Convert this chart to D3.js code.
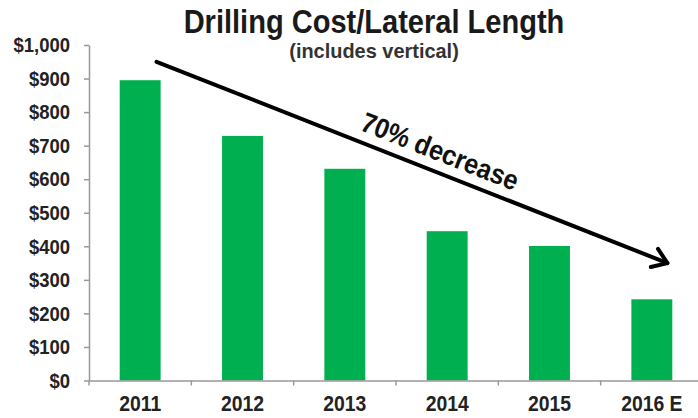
<!DOCTYPE html>
<html><head><meta charset="utf-8">
<script src="https://cdn.jsdelivr.net/npm/d3@7"></script>
<style>body{margin:0;background:#fff}svg{display:block}</style>
</head><body><svg id="c" width="698" height="418"></svg>
<script>
const categories = ["2011", "2012", "2013", "2014", "2015", "2016 E"];
const costValues = [895, 729, 631, 445, 401, 242];
const yTickValues = [0, 100, 200, 300, 400, 500, 600, 700, 800, 900, 1000];
const titleText = "Drilling Cost/Lateral Length";
const subtitleText = "(includes vertical)";
const annotationText = "70% decrease";
const arrowFrom = {cat: "2011", value: 950};
const arrowTo = {cat: "2016 E", value: 350};

const svg = d3.select("#c");
const font = "'Liberation Sans', Arial, sans-serif";
const textColor = "#222";
const axisColor = "#999";
const squeeze = 0.88;

const x = d3.scaleBand().domain(categories).range([89, 703]).paddingInner(0.6).paddingOuter(0.3);
const y = d3.scaleLinear().domain([0, 1000]).range([380.5, 45]);

// bars
svg.append("g").selectAll("rect").data(categories).join("rect")
  .attr("x", d => x(d)).attr("width", x.bandwidth())
  .attr("y", (d, i) => y(costValues[i]))
  .attr("height", (d, i) => y(0) - y(costValues[i]))
  .attr("fill", "#00B050");

// y axis
const yAxis = svg.append("g").attr("transform", "translate(89,0)")
  .call(d3.axisLeft(y).tickValues(yTickValues).tickSize(5).tickSizeOuter(0).tickPadding(0)
    .tickFormat(d => "$" + d3.format(",")(d)));
yAxis.selectAll("path,line").attr("stroke", axisColor).attr("stroke-width", 1.5);
yAxis.selectAll("text").attr("font-family", font).attr("font-weight", "bold")
  .attr("font-size", 21).attr("fill", textColor)
  .attr("x", -19 / squeeze).attr("transform", `scale(${squeeze},1)`);

// x axis
const xAxis = svg.append("g").attr("transform", `translate(0,${y(0)})`)
  .call(d3.axisBottom(x).tickSize(0).tickSizeOuter(0).tickPadding(15));
xAxis.select("path").attr("stroke", axisColor).attr("stroke-width", 1.5);
xAxis.selectAll("text").attr("font-family", font).attr("font-weight", "bold")
  .attr("font-size", 22).attr("fill", textColor).attr("transform", `scale(${squeeze},1)`);
const step = x.step();
const x0 = x.range()[0];
xAxis.selectAll("line.bnd").data(d3.range(categories.length + 1)).join("line")
  .attr("class", "bnd")
  .attr("x1", k => x0 + k * step).attr("x2", k => x0 + k * step)
  .attr("y1", 0).attr("y2", 5).attr("stroke", axisColor).attr("stroke-width", 1.5);

// title
svg.append("text").attr("transform", `translate(374,33) scale(${squeeze},1)`)
  .attr("text-anchor", "middle")
  .attr("font-family", font).attr("font-weight", "bold").attr("font-size", 33)
  .attr("fill", "#1a1a1a").text(titleText);
svg.append("text").attr("transform", `translate(374,58) scale(0.95,1)`)
  .attr("text-anchor", "middle")
  .attr("font-family", font).attr("font-weight", "bold").attr("font-size", 21)
  .attr("fill", "#333").text(subtitleText);

// arrow annotation
const ax1 = x(arrowFrom.cat) + 0.9 * x.bandwidth(), ay1 = y(arrowFrom.value);
const ax2 = x(arrowTo.cat) + 0.88 * x.bandwidth(), ay2 = y(arrowTo.value);
const theta = Math.atan2(ay2 - ay1, ax2 - ax1);
const ag = svg.append("g").attr("stroke", "#000").attr("stroke-width", 4)
  .attr("stroke-linecap", "round").attr("stroke-linejoin", "round").attr("fill", "none");
ag.append("line").attr("x1", ax1).attr("y1", ay1).attr("x2", ax2).attr("y2", ay2);
const wing = 17, wa = 35 * Math.PI / 180;
const p1 = [ax2 - wing * Math.cos(theta - wa), ay2 - wing * Math.sin(theta - wa)];
const p2 = [ax2 - wing * Math.cos(theta + wa), ay2 - wing * Math.sin(theta + wa)];
ag.append("path").attr("d", `M${p1[0]},${p1[1]}L${ax2},${ay2}L${p2[0]},${p2[1]}`);

const t = 0.54;
const mx = ax1 + t * (ax2 - ax1), my = ay1 + t * (ay2 - ay1);
svg.append("text")
  .attr("transform", `translate(${mx},${my}) rotate(${theta * 180 / Math.PI}) scale(0.9,1)`)
  .attr("x", 0).attr("y", -11).attr("text-anchor", "middle")
  .attr("font-family", font).attr("font-weight", "bold").attr("font-size", 28)
  .attr("fill", "#111").text(annotationText);
</script></body></html>
